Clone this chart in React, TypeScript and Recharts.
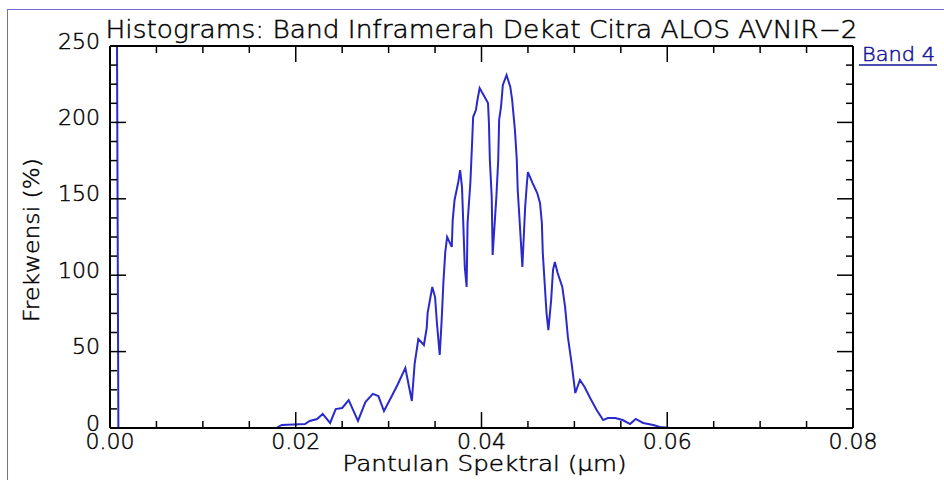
import { Line, LineChart, XAxis, YAxis } from "recharts";

const REFLECTANCE = [
  0.00075, 0.0009, 0.018, 0.0181, 0.0185, 0.021, 0.0215, 0.0223, 0.0229, 0.0237,
  0.0243, 0.025, 0.0257, 0.0267, 0.0275, 0.0283, 0.0289, 0.0295, 0.0304, 0.031,
  0.0318, 0.0325, 0.0328, 0.0332, 0.0338, 0.0341, 0.0342, 0.0347, 0.035, 0.0352,
  0.0355, 0.0357, 0.0359, 0.0361, 0.0363, 0.0368, 0.0369, 0.0371, 0.0375, 0.0377,
  0.0379, 0.038, 0.0382, 0.0384, 0.0385, 0.0388, 0.039, 0.0391, 0.0394, 0.0396,
  0.0398, 0.0404, 0.0407, 0.0408, 0.0409, 0.0411, 0.0412, 0.0416, 0.0418, 0.0419,
  0.0421, 0.0423, 0.0427, 0.0431, 0.0433, 0.0436, 0.0438, 0.0439, 0.0441, 0.0444,
  0.0447, 0.0449, 0.045, 0.0455, 0.046, 0.0463, 0.0465, 0.0466, 0.0468, 0.047,
  0.0472, 0.0475, 0.0477, 0.0479, 0.0482, 0.0487, 0.049, 0.0493, 0.0497, 0.0501,
  0.0506, 0.0511, 0.0517, 0.0524, 0.0531, 0.0536, 0.0544, 0.0552, 0.056, 0.0566,
  0.0574, 0.0585, 0.0592, 0.0603, 0.08,
];
const FREQUENCY = [
  260, 0, 0, 0.7, 2.0, 2.6, 4.6, 5.9, 9.2, 3.3,
  12.4, 13.1, 18.3, 4.6, 17.0, 22.3, 20.9, 11.1, 21.6, 28.8,
  39.3, 17.7, 41.9, 58.2, 54.3, 65.4, 75.3, 92.3, 85.7, 68.7,
  47.8, 69.4, 95.5, 115.2, 125.0, 118.5, 136.1, 149.2, 161.0, 168.8,
  157.7, 140.7, 105.4, 92.3, 134.2, 160.3, 188.5, 203.5, 208.1, 216.0,
  222.5, 216.0, 212.7, 199.6, 175.4, 151.2, 113.2, 151.2, 175.4, 201.6,
  210.1, 224.5, 231.0, 223.2, 214.7, 195.0, 175.4, 155.8, 136.1, 105.4,
  144.6, 161.0, 167.5, 160.3, 153.8, 147.3, 134.2, 114.5, 94.9, 75.3,
  64.1, 83.8, 103.4, 108.6, 101.4, 92.3, 79.2, 59.6, 42.5, 22.9,
  31.4, 26.8, 19.6, 11.8, 5.2, 6.5, 6.5, 5.2, 2.6, 5.9,
  3.3, 2.0, 0.7, 0, 0,
];

const X_TICKS = [
  0, 0.005, 0.01, 0.015, 0.02, 0.025, 0.03, 0.035, 0.04, 0.045, 0.05, 0.055, 0.06,
  0.065, 0.07, 0.075, 0.08,
];
const Y_TICKS = [
  0, 12.5, 25, 37.5, 50, 62.5, 75, 87.5, 100, 112.5, 125, 137.5, 150, 162.5, 175,
  187.5, 200, 212.5, 225, 237.5, 250,
];

const TITLE = "Histograms: Band Inframerah Dekat Citra ALOS AVNIR\u22122";
const X_LABEL = "Pantulan Spektral (\u03bcm)";
const Y_LABEL = "Frekwensi (%)";
const SERIES_NAME = "Band 4";

const data = REFLECTANCE.map((x, i) => ({ x, freq: FREQUENCY[i] }));

const FONT = "'DejaVu Sans', sans-serif";
const INK = "#000";
const LINE_BLUE = "#2a2acc";
const LEGEND_BLUE = "#14149a";

// thin vector-style lettering, darkened a touch with a hairline outline
const textStyle = { fontFamily: FONT, fontWeight: 200, fill: INK, stroke: INK, strokeWidth: 0.45 };

type Side = "top" | "bottom" | "left" | "right";

const isStep = (v: number, step: number) => Math.abs(v / step - Math.round(v / step)) < 1e-6;

function FrameTick(props: any) {
  const { x, y, payload, side } = props as { x: number; y: number; payload: { value: number }; side: Side };
  const v = payload.value;
  const horizontal = side === "top" || side === "bottom";
  const major = horizontal ? isStep(v, 0.02) : isStep(v, 50);
  const len = major ? 16 : 7;
  const x2 = side === "left" ? x + len : side === "right" ? x - len : x;
  const y2 = side === "bottom" ? y - len : side === "top" ? y + len : y;
  return (
    <g>
      <line x1={x} y1={y} x2={x2} y2={y2} stroke={INK} strokeWidth={1.5} />
      {major && side === "bottom" && (
        <text x={x} y={y + 21} textAnchor="middle" fontSize={22} {...textStyle}>
          {v.toFixed(2)}
        </text>
      )}
      {major && side === "left" && (
        <text x={x - 10} y={y - 5} textAnchor="end" dominantBaseline="central" fontSize={22} {...textStyle}>
          {v}
        </text>
      )}
    </g>
  );
}

export default function App() {
  return (
    <div style={{ position: "absolute", left: 0, top: 0, width: 944, height: 480, background: "#fff", overflow: "hidden" }}>
      <div
        style={{
          position: "absolute",
          left: 7,
          top: 9,
          right: -2,
          bottom: -2,
          borderLeft: "1px solid #6b6bd0",
          borderTop: "1px solid #6b6bd0",
        }}
      />
      <LineChart
        width={944}
        height={480}
        data={data}
        margin={{ top: 45, right: 90, bottom: 22, left: 50 }}
        style={{ position: "absolute", left: 0, top: 0 }}
      >
        <XAxis
          xAxisId="b"
          dataKey="x"
          type="number"
          domain={[0, 0.08]}
          ticks={X_TICKS}
          interval={0}
          allowDataOverflow
          height={30}
          tickSize={0}
          tickMargin={0}
          axisLine={{ stroke: INK, strokeWidth: 2 }}
          tickLine={false}
          tick={(p: any) => <FrameTick {...p} side="bottom" />}
          label={{
            content: ({ viewBox }: any) => (
              <text
                x={viewBox.x + viewBox.width / 2 + 3}
                y={viewBox.y + 43}
                textAnchor="middle"
                fontSize={21}
                {...textStyle}
                textLength={284}
                lengthAdjust="spacingAndGlyphs"
              >
                {X_LABEL}
              </text>
            ),
          }}
        />
        <XAxis
          xAxisId="t"
          dataKey="x"
          type="number"
          orientation="top"
          domain={[0, 0.08]}
          ticks={X_TICKS}
          interval={0}
          allowDataOverflow
          height={1}
          tickSize={0}
          tickMargin={0}
          axisLine={{ stroke: INK, strokeWidth: 2 }}
          tickLine={false}
          tick={(p: any) => <FrameTick {...p} side="top" />}
          label={{
            content: ({ viewBox }: any) => (
              <text
                x={viewBox.x + viewBox.width / 2}
                y={viewBox.y + viewBox.height - 8}
                textAnchor="middle"
                fontSize={24}
                {...textStyle}
                textLength={752}
                lengthAdjust="spacingAndGlyphs"
              >
                {TITLE}
              </text>
            ),
          }}
        />
        <YAxis
          yAxisId="l"
          type="number"
          domain={[0, 250]}
          ticks={Y_TICKS}
          interval={0}
          allowDataOverflow
          width={60}
          tickSize={0}
          tickMargin={0}
          axisLine={{ stroke: INK, strokeWidth: 2 }}
          tickLine={false}
          tick={(p: any) => <FrameTick {...p} side="left" />}
          label={{
            content: ({ viewBox }: any) => {
              const cx = viewBox.x - 19;
              const cy = viewBox.y + viewBox.height / 2 + 3;
              return (
                <text
                  x={cx}
                  y={cy}
                  transform={`rotate(-90 ${cx} ${cy})`}
                  textAnchor="middle"
                  dominantBaseline="central"
                  fontSize={22}
                  {...textStyle}
                  textLength={164}
                  lengthAdjust="spacingAndGlyphs"
                >
                  {Y_LABEL}
                </text>
              );
            },
          }}
        />
        <YAxis
          yAxisId="r"
          type="number"
          orientation="right"
          domain={[0, 250]}
          ticks={Y_TICKS}
          interval={0}
          allowDataOverflow
          width={1}
          tickSize={0}
          tickMargin={0}
          axisLine={{ stroke: INK, strokeWidth: 2 }}
          tickLine={false}
          tick={(p: any) => <FrameTick {...p} side="right" />}
          label={{
            content: ({ viewBox }: any) => (
              <g>
                <text
                  x={viewBox.x + 9}
                  y={viewBox.y + 15}
                  fontFamily={FONT}
                  fontWeight={200}
                  fontSize={20}
                  fill={LEGEND_BLUE}
                  stroke={LEGEND_BLUE}
                  strokeWidth={0.5}
                  textLength={73}
                  lengthAdjust="spacingAndGlyphs"
                >
                  {SERIES_NAME}
                </text>
                <line x1={viewBox.x + 6} y1={viewBox.y + 19} x2={viewBox.x + 84} y2={viewBox.y + 19} stroke={LEGEND_BLUE} strokeWidth={1.5} />
              </g>
            ),
          }}
        />
        <Line
          xAxisId="b"
          yAxisId="l"
          dataKey="freq"
          name={SERIES_NAME}
          type="linear"
          stroke={LINE_BLUE}
          strokeWidth={2}
          dot={false}
          isAnimationActive={false}
        />
        <Line
          xAxisId="t"
          yAxisId="r"
          dataKey="freq"
          type="linear"
          stroke="none"
          strokeWidth={0}
          dot={false}
          legendType="none"
          isAnimationActive={false}
        />
      </LineChart>
    </div>
  );
}
